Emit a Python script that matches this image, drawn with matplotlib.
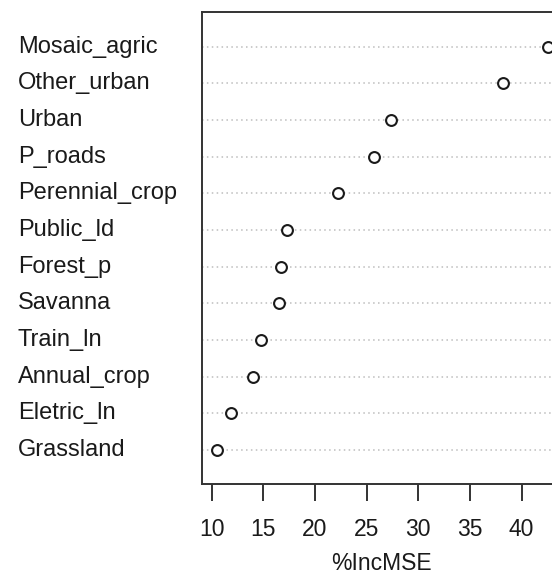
"""
Variable importance dot chart (%IncMSE), R dotchart look.
"""

import matplotlib
matplotlib.use('Agg')
import matplotlib.pyplot as plt
import matplotlib.transforms as mtransforms

# ── Data (top to bottom) ───────────────────────────────────────────
variables = ['Mosaic_agric', 'Other_urban', 'Urban', 'P_roads',
             'Perennial_crop', 'Public_ld', 'Forest_p', 'Savanna',
             'Train_ln', 'Annual_crop', 'Eletric_ln', 'Grassland']
inc_mse = [42.6, 38.2, 27.4, 25.7, 22.25, 17.3, 16.7, 16.5,
           14.8, 14.0, 11.85, 10.5]
x_ticks = [10, 15, 20, 25, 30, 35, 40]

plt.rcParams.update({
    'font.family': ['Liberation Sans', 'DejaVu Sans'],
})

W, H = 552, 574
fig = plt.figure(figsize=(W / 100, H / 100), dpi=100)
fig.patch.set_facecolor('white')

# axes box: left 202px, top 12px, bottom 484px, right runs off the picture
x0, x1 = 9.06, 43.8
px_per_unit = 10.33
ax_w = (x1 - x0) * px_per_unit
ax = fig.add_axes([202 / W, (H - 484) / H, ax_w / W, (484 - 12) / H])

n = len(variables)
ypos = list(range(n, 0, -1))

for y in ypos:
    ax.axhline(y, color='#bdbdbd', lw=1.1, linestyle=(0, (1, 2.2)), zorder=1)

ax.plot(inc_mse, ypos, linestyle='none', marker='o', ms=7.8,
        mfc='white', mec='#1a1a1a', mew=1.5, zorder=3)

ax.set_xlim(x0, x1)
ax.set_ylim(0.07, n + 0.95)

for s in ax.spines.values():
    s.set_color('#333333')
    s.set_linewidth(1.4)

ax.set_yticks([])
ax.set_xticks(x_ticks)
ax.tick_params(axis='x', direction='out', length=12.5, width=1.4,
               color='#333333', labelsize=16.5, labelcolor='#1a1a1a', pad=12)

# left-aligned row labels at the figure margin
trans = mtransforms.blended_transform_factory(fig.transFigure, ax.transData)
for name, y in zip(variables, ypos):
    ax.text(18 / W, y, name, transform=trans, ha='left', va='center',
            fontsize=17, color='#1a1a1a')

ax.set_xlabel('%IncMSE', fontsize=16.5, color='#1a1a1a')
ax.xaxis.set_label_coords(0.5, -(563 - 484) / (484 - 12))
ax.xaxis.label.set_va('center')

fig.savefig('out.png', dpi=100, facecolor='white')
plt.close(fig)
